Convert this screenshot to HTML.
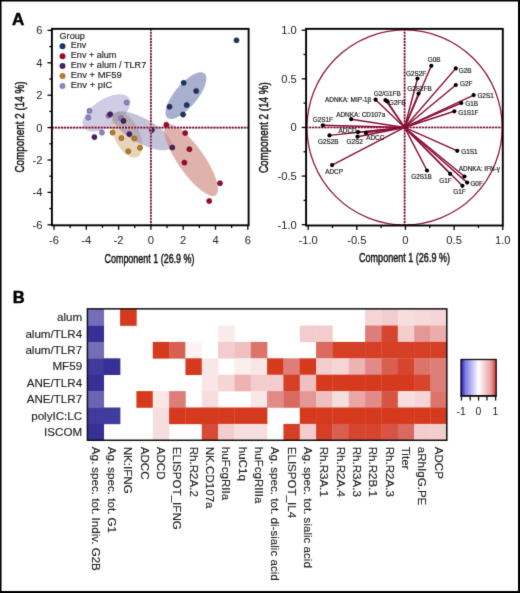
<!DOCTYPE html>
<html><head><meta charset="utf-8"><style>
html,body{margin:0;padding:0;background:#fff;}
#w{width:520px;height:593px;will-change:transform;}
svg{display:block;font-family:"Liberation Sans", sans-serif;}
</style></head><body><div id="w">
<svg width="520" height="593" viewBox="0 0 520 593">
<defs><filter id="soft" x="0" y="0" width="520" height="593" filterUnits="userSpaceOnUse" color-interpolation-filters="sRGB"><feConvolveMatrix order="3" kernelMatrix="0.0114 0.0841 0.0114 0.0841 0.6180 0.0841 0.0114 0.0841 0.0114" edgeMode="duplicate" preserveAlpha="true"/></filter></defs>
<g filter="url(#soft)">
<rect width="520" height="593" fill="#fff"/>
<path d="M0.75 0V593M0 0.75H520" stroke="#000" stroke-width="1.5"/>
<path d="M519 0V593M0 592H520" stroke="#000" stroke-width="2"/>
<text x="11.90" y="25.00" font-size="17" text-anchor="start" fill="#000" font-weight="bold" stroke="#000" stroke-width="0.5">A</text>
<text x="12.70" y="303.00" font-size="16.5" text-anchor="start" fill="#000" font-weight="bold" stroke="#000" stroke-width="0.5">B</text>
<ellipse cx="106.4" cy="113.0" rx="27.0" ry="13.8" transform="rotate(-33 106.4 113.0)" fill="#9f99c9" fill-opacity="0.5"/>
<ellipse cx="126.8" cy="134.8" rx="24.5" ry="12.6" transform="rotate(65 126.8 134.8)" fill="#d9b78c" fill-opacity="0.6"/>
<ellipse cx="142.0" cy="130.8" rx="33.5" ry="12.3" transform="rotate(29 142.0 130.8)" fill="#8480ac" fill-opacity="0.48"/>
<ellipse cx="185.9" cy="95.6" rx="29.0" ry="11.3" transform="rotate(-50 185.9 95.6)" fill="#7784b1" fill-opacity="0.64"/>
<ellipse cx="191.2" cy="160.1" rx="43.0" ry="13.2" transform="rotate(55 191.2 160.1)" fill="#cf8980" fill-opacity="0.65"/>
<line x1="51.9" y1="127.6" x2="248.6" y2="127.6" stroke="#eeb4c4" stroke-width="1.8"/>
<line x1="51.9" y1="127.6" x2="248.6" y2="127.6" stroke="#5e0a28" stroke-width="1.6" stroke-dasharray="1.9 1.15"/>
<circle cx="89.5" cy="110.8" r="2.55" fill="#8a86c0" stroke="#605d86" stroke-width="0.6"/>
<circle cx="88.3" cy="117.6" r="2.55" fill="#8a86c0" stroke="#605d86" stroke-width="0.6"/>
<circle cx="126.7" cy="102.6" r="2.55" fill="#8a86c0" stroke="#605d86" stroke-width="0.6"/>
<circle cx="101.9" cy="132.6" r="2.55" fill="#8a86c0" stroke="#605d86" stroke-width="0.6"/>
<circle cx="108.6" cy="115.7" r="2.55" fill="#8a86c0" stroke="#605d86" stroke-width="0.6"/>
<circle cx="121.0" cy="118.2" r="2.55" fill="#8a86c0" stroke="#605d86" stroke-width="0.6"/>
<circle cx="112.6" cy="132.6" r="2.55" fill="#b9792b" stroke="#81541e" stroke-width="0.6"/>
<circle cx="121.4" cy="138.0" r="2.55" fill="#b9792b" stroke="#81541e" stroke-width="0.6"/>
<circle cx="134.3" cy="138.6" r="2.55" fill="#b9792b" stroke="#81541e" stroke-width="0.6"/>
<circle cx="140.0" cy="147.8" r="2.55" fill="#b9792b" stroke="#81541e" stroke-width="0.6"/>
<circle cx="128.3" cy="151.3" r="2.55" fill="#b9792b" stroke="#81541e" stroke-width="0.6"/>
<circle cx="110.2" cy="114.2" r="2.55" fill="#47215e" stroke="#311741" stroke-width="0.6"/>
<circle cx="123.5" cy="120.9" r="2.55" fill="#47215e" stroke="#311741" stroke-width="0.6"/>
<circle cx="94.4" cy="137.1" r="2.55" fill="#47215e" stroke="#311741" stroke-width="0.6"/>
<circle cx="129.3" cy="134.1" r="2.55" fill="#47215e" stroke="#311741" stroke-width="0.6"/>
<circle cx="151.8" cy="130.0" r="2.55" fill="#47215e" stroke="#311741" stroke-width="0.6"/>
<circle cx="172.3" cy="147.5" r="2.55" fill="#47215e" stroke="#311741" stroke-width="0.6"/>
<circle cx="236.5" cy="40.3" r="2.55" fill="#1f3466" stroke="#152447" stroke-width="0.6"/>
<circle cx="183.6" cy="82.8" r="2.55" fill="#1f3466" stroke="#152447" stroke-width="0.6"/>
<circle cx="196.2" cy="91.0" r="2.55" fill="#1f3466" stroke="#152447" stroke-width="0.6"/>
<circle cx="169.5" cy="106.7" r="2.55" fill="#1f3466" stroke="#152447" stroke-width="0.6"/>
<circle cx="186.7" cy="105.0" r="2.55" fill="#1f3466" stroke="#152447" stroke-width="0.6"/>
<circle cx="183.1" cy="114.6" r="2.55" fill="#1f3466" stroke="#152447" stroke-width="0.6"/>
<circle cx="166.3" cy="124.7" r="2.55" fill="#9a0c2c" stroke="#6b081e" stroke-width="0.6"/>
<circle cx="185.2" cy="133.0" r="2.55" fill="#9a0c2c" stroke="#6b081e" stroke-width="0.6"/>
<circle cx="189.4" cy="149.2" r="2.55" fill="#9a0c2c" stroke="#6b081e" stroke-width="0.6"/>
<circle cx="184.4" cy="162.6" r="2.55" fill="#9a0c2c" stroke="#6b081e" stroke-width="0.6"/>
<circle cx="220.0" cy="183.2" r="2.55" fill="#9a0c2c" stroke="#6b081e" stroke-width="0.6"/>
<circle cx="209.2" cy="201.0" r="2.55" fill="#9a0c2c" stroke="#6b081e" stroke-width="0.6"/>
<line x1="150.9" y1="28.85" x2="150.9" y2="225.3" stroke="#eeb4c4" stroke-width="1.8"/>
<line x1="150.9" y1="28.85" x2="150.9" y2="225.3" stroke="#5e0a28" stroke-width="1.6" stroke-dasharray="1.9 1.15"/>
<rect x="51.9" y="28.85" width="196.7" height="196.45000000000002" fill="none" stroke="#000" stroke-width="1.9"/>
<line x1="54.00" y1="225.3" x2="54.00" y2="229.70000000000002" stroke="#000" stroke-width="1.3"/>
<line x1="51.9" y1="224.80" x2="47.5" y2="224.80" stroke="#000" stroke-width="1.3"/>
<line x1="70.15" y1="225.3" x2="70.15" y2="227.9" stroke="#000" stroke-width="1.3"/>
<line x1="51.9" y1="208.60" x2="49.3" y2="208.60" stroke="#000" stroke-width="1.3"/>
<line x1="86.30" y1="225.3" x2="86.30" y2="229.70000000000002" stroke="#000" stroke-width="1.3"/>
<line x1="51.9" y1="192.40" x2="47.5" y2="192.40" stroke="#000" stroke-width="1.3"/>
<line x1="102.45" y1="225.3" x2="102.45" y2="227.9" stroke="#000" stroke-width="1.3"/>
<line x1="51.9" y1="176.20" x2="49.3" y2="176.20" stroke="#000" stroke-width="1.3"/>
<line x1="118.60" y1="225.3" x2="118.60" y2="229.70000000000002" stroke="#000" stroke-width="1.3"/>
<line x1="51.9" y1="160.00" x2="47.5" y2="160.00" stroke="#000" stroke-width="1.3"/>
<line x1="134.75" y1="225.3" x2="134.75" y2="227.9" stroke="#000" stroke-width="1.3"/>
<line x1="51.9" y1="143.80" x2="49.3" y2="143.80" stroke="#000" stroke-width="1.3"/>
<line x1="150.90" y1="225.3" x2="150.90" y2="229.70000000000002" stroke="#000" stroke-width="1.3"/>
<line x1="51.9" y1="127.60" x2="47.5" y2="127.60" stroke="#000" stroke-width="1.3"/>
<line x1="167.05" y1="225.3" x2="167.05" y2="227.9" stroke="#000" stroke-width="1.3"/>
<line x1="51.9" y1="111.40" x2="49.3" y2="111.40" stroke="#000" stroke-width="1.3"/>
<line x1="183.20" y1="225.3" x2="183.20" y2="229.70000000000002" stroke="#000" stroke-width="1.3"/>
<line x1="51.9" y1="95.20" x2="47.5" y2="95.20" stroke="#000" stroke-width="1.3"/>
<line x1="199.35" y1="225.3" x2="199.35" y2="227.9" stroke="#000" stroke-width="1.3"/>
<line x1="51.9" y1="79.00" x2="49.3" y2="79.00" stroke="#000" stroke-width="1.3"/>
<line x1="215.50" y1="225.3" x2="215.50" y2="229.70000000000002" stroke="#000" stroke-width="1.3"/>
<line x1="51.9" y1="62.80" x2="47.5" y2="62.80" stroke="#000" stroke-width="1.3"/>
<line x1="231.65" y1="225.3" x2="231.65" y2="227.9" stroke="#000" stroke-width="1.3"/>
<line x1="51.9" y1="46.60" x2="49.3" y2="46.60" stroke="#000" stroke-width="1.3"/>
<line x1="247.80" y1="225.3" x2="247.80" y2="229.70000000000002" stroke="#000" stroke-width="1.3"/>
<line x1="51.9" y1="30.40" x2="47.5" y2="30.40" stroke="#000" stroke-width="1.3"/>
<text x="54.00" y="243.50" font-size="11.2" text-anchor="middle" fill="#222" font-weight="normal" >-6</text>
<text x="42.40" y="228.70" font-size="11.2" text-anchor="end" fill="#222" font-weight="normal" >-6</text>
<text x="86.30" y="243.50" font-size="11.2" text-anchor="middle" fill="#222" font-weight="normal" >-4</text>
<text x="42.40" y="196.30" font-size="11.2" text-anchor="end" fill="#222" font-weight="normal" >-4</text>
<text x="118.60" y="243.50" font-size="11.2" text-anchor="middle" fill="#222" font-weight="normal" >-2</text>
<text x="42.40" y="163.90" font-size="11.2" text-anchor="end" fill="#222" font-weight="normal" >-2</text>
<text x="150.90" y="243.50" font-size="11.2" text-anchor="middle" fill="#222" font-weight="normal" >0</text>
<text x="42.40" y="131.50" font-size="11.2" text-anchor="end" fill="#222" font-weight="normal" >0</text>
<text x="183.20" y="243.50" font-size="11.2" text-anchor="middle" fill="#222" font-weight="normal" >2</text>
<text x="42.40" y="99.10" font-size="11.2" text-anchor="end" fill="#222" font-weight="normal" >2</text>
<text x="215.50" y="243.50" font-size="11.2" text-anchor="middle" fill="#222" font-weight="normal" >4</text>
<text x="42.40" y="66.70" font-size="11.2" text-anchor="end" fill="#222" font-weight="normal" >4</text>
<text x="247.80" y="243.50" font-size="11.2" text-anchor="middle" fill="#222" font-weight="normal" >6</text>
<text x="42.40" y="34.30" font-size="11.2" text-anchor="end" fill="#222" font-weight="normal" >6</text>
<text x="149.50" y="262.50" font-size="12.2" text-anchor="middle" fill="#111" font-weight="normal" textLength="90" lengthAdjust="spacingAndGlyphs" stroke="#111" stroke-width="0.45">Component 1 (26.9 %)</text>
<text transform="translate(23.8 127) rotate(-90)" x="0" y="0" font-size="12.2" text-anchor="middle" fill="#111" stroke="#111" stroke-width="0.45" textLength="91" lengthAdjust="spacingAndGlyphs">Component 2 (14 %)</text>
<text x="59.50" y="39.40" font-size="9.1" text-anchor="start" fill="#1a1a1a" font-weight="normal" textLength="25.4" lengthAdjust="spacingAndGlyphs" stroke="#1a1a1a" stroke-width="0.15">Group</text>
<circle cx="62.5" cy="46.20" r="3.0" fill="#1f3466"/>
<text x="70.80" y="48.10" font-size="9.0" text-anchor="start" fill="#1a1a1a" font-weight="normal" stroke="#1a1a1a" stroke-width="0.15">Env</text>
<circle cx="62.5" cy="56.13" r="3.0" fill="#9a0c2c"/>
<text x="70.80" y="58.03" font-size="9.0" text-anchor="start" fill="#1a1a1a" font-weight="normal" textLength="45.6" lengthAdjust="spacingAndGlyphs" stroke="#1a1a1a" stroke-width="0.15">Env + alum</text>
<circle cx="62.5" cy="66.06" r="3.0" fill="#47215e"/>
<text x="70.80" y="67.96" font-size="9.0" text-anchor="start" fill="#1a1a1a" font-weight="normal" textLength="75.4" lengthAdjust="spacingAndGlyphs" stroke="#1a1a1a" stroke-width="0.15">Env + alum / TLR7</text>
<circle cx="62.5" cy="75.99" r="3.0" fill="#b9792b"/>
<text x="70.80" y="77.89" font-size="9.0" text-anchor="start" fill="#1a1a1a" font-weight="normal" textLength="51.0" lengthAdjust="spacingAndGlyphs" stroke="#1a1a1a" stroke-width="0.15">Env + MF59</text>
<circle cx="62.5" cy="85.92" r="3.0" fill="#8a86c0"/>
<text x="70.80" y="87.82" font-size="9.0" text-anchor="start" fill="#1a1a1a" font-weight="normal" textLength="41.6" lengthAdjust="spacingAndGlyphs" stroke="#1a1a1a" stroke-width="0.15">Env + pIC</text>
<ellipse cx="404.6" cy="127.45" rx="97.6" ry="97.5" fill="none" stroke="#8f1a3c" stroke-width="1.3"/>
<line x1="404.6" y1="28.85" x2="404.6" y2="225.5" stroke="#eeb4c4" stroke-width="1.8"/>
<line x1="404.6" y1="28.85" x2="404.6" y2="225.5" stroke="#5e0a28" stroke-width="1.6" stroke-dasharray="1.9 1.15"/>
<line x1="306.1" y1="127.45" x2="502.8" y2="127.45" stroke="#eeb4c4" stroke-width="1.8"/>
<line x1="306.1" y1="127.45" x2="502.8" y2="127.45" stroke="#5e0a28" stroke-width="1.6" stroke-dasharray="1.9 1.15"/>
<line x1="404.6" y1="127.45" x2="431.3" y2="65.8" stroke="#8a0f34" stroke-width="1.45"/>
<line x1="404.6" y1="127.45" x2="455.8" y2="68.4" stroke="#8a0f34" stroke-width="1.45"/>
<line x1="404.6" y1="127.45" x2="417.5" y2="78.5" stroke="#8a0f34" stroke-width="1.45"/>
<line x1="404.6" y1="127.45" x2="455.8" y2="85.0" stroke="#8a0f34" stroke-width="1.45"/>
<line x1="404.6" y1="127.45" x2="418.5" y2="93.6" stroke="#8a0f34" stroke-width="1.45"/>
<line x1="404.6" y1="127.45" x2="473.7" y2="95.1" stroke="#8a0f34" stroke-width="1.45"/>
<line x1="404.6" y1="127.45" x2="461.3" y2="103.0" stroke="#8a0f34" stroke-width="1.45"/>
<line x1="404.6" y1="127.45" x2="454.3" y2="111.3" stroke="#8a0f34" stroke-width="1.45"/>
<line x1="404.6" y1="127.45" x2="375.6" y2="99.7" stroke="#8a0f34" stroke-width="1.45"/>
<line x1="404.6" y1="127.45" x2="385.5" y2="100.2" stroke="#8a0f34" stroke-width="1.45"/>
<line x1="404.6" y1="127.45" x2="387.2" y2="101.4" stroke="#8a0f34" stroke-width="1.45"/>
<line x1="404.6" y1="127.45" x2="351.2" y2="119.2" stroke="#8a0f34" stroke-width="1.45"/>
<line x1="404.6" y1="127.45" x2="322.9" y2="125.3" stroke="#8a0f34" stroke-width="1.45"/>
<line x1="404.6" y1="127.45" x2="358.1" y2="132.1" stroke="#8a0f34" stroke-width="1.45"/>
<line x1="404.6" y1="127.45" x2="329.5" y2="135.4" stroke="#8a0f34" stroke-width="1.45"/>
<line x1="404.6" y1="127.45" x2="357.5" y2="136.7" stroke="#8a0f34" stroke-width="1.45"/>
<line x1="404.6" y1="127.45" x2="365.9" y2="132.9" stroke="#8a0f34" stroke-width="1.45"/>
<line x1="404.6" y1="127.45" x2="332.1" y2="165.1" stroke="#8a0f34" stroke-width="1.45"/>
<line x1="404.6" y1="127.45" x2="457.3" y2="150.8" stroke="#8a0f34" stroke-width="1.45"/>
<line x1="404.6" y1="127.45" x2="427.0" y2="170.5" stroke="#8a0f34" stroke-width="1.45"/>
<line x1="404.6" y1="127.45" x2="450.1" y2="173.8" stroke="#8a0f34" stroke-width="1.45"/>
<line x1="404.6" y1="127.45" x2="464.5" y2="176.5" stroke="#8a0f34" stroke-width="1.45"/>
<line x1="404.6" y1="127.45" x2="467.2" y2="182.6" stroke="#8a0f34" stroke-width="1.45"/>
<line x1="404.6" y1="127.45" x2="462.4" y2="185.8" stroke="#8a0f34" stroke-width="1.45"/>
<circle cx="431.3" cy="65.8" r="2.1" fill="#000"/>
<circle cx="455.8" cy="68.4" r="2.1" fill="#000"/>
<circle cx="417.5" cy="78.5" r="2.1" fill="#000"/>
<circle cx="455.8" cy="85.0" r="2.1" fill="#000"/>
<circle cx="418.5" cy="93.6" r="2.1" fill="#000"/>
<circle cx="473.7" cy="95.1" r="2.1" fill="#000"/>
<circle cx="461.3" cy="103.0" r="2.1" fill="#000"/>
<circle cx="454.3" cy="111.3" r="2.1" fill="#000"/>
<circle cx="375.6" cy="99.7" r="2.1" fill="#000"/>
<circle cx="385.5" cy="100.2" r="2.1" fill="#000"/>
<circle cx="387.2" cy="101.4" r="2.1" fill="#000"/>
<circle cx="351.2" cy="119.2" r="2.1" fill="#000"/>
<circle cx="322.9" cy="125.3" r="2.1" fill="#000"/>
<circle cx="358.1" cy="132.1" r="2.1" fill="#000"/>
<circle cx="329.5" cy="135.4" r="2.1" fill="#000"/>
<circle cx="357.5" cy="136.7" r="2.1" fill="#000"/>
<circle cx="365.9" cy="132.9" r="2.1" fill="#000"/>
<circle cx="332.1" cy="165.1" r="2.1" fill="#000"/>
<circle cx="457.3" cy="150.8" r="2.1" fill="#000"/>
<circle cx="427.0" cy="170.5" r="2.1" fill="#000"/>
<circle cx="450.1" cy="173.8" r="2.1" fill="#000"/>
<circle cx="464.5" cy="176.5" r="2.1" fill="#000"/>
<circle cx="467.2" cy="182.6" r="2.1" fill="#000"/>
<circle cx="462.4" cy="185.8" r="2.1" fill="#000"/>
<text x="427.80" y="62.10" font-size="6.4" text-anchor="start" fill="#1a1a1a" font-weight="normal" stroke="#1a1a1a" stroke-width="0.18">G0B</text>
<text x="458.80" y="72.70" font-size="6.4" text-anchor="start" fill="#1a1a1a" font-weight="normal" stroke="#1a1a1a" stroke-width="0.18">G2B</text>
<text x="406.00" y="76.10" font-size="6.4" text-anchor="start" fill="#1a1a1a" font-weight="normal" stroke="#1a1a1a" stroke-width="0.18">G2S2F</text>
<text x="460.00" y="86.10" font-size="6.4" text-anchor="start" fill="#1a1a1a" font-weight="normal" stroke="#1a1a1a" stroke-width="0.18">G2F</text>
<text x="407.30" y="91.10" font-size="6.4" text-anchor="start" fill="#1a1a1a" font-weight="normal" stroke="#1a1a1a" stroke-width="0.18">G2S2FB</text>
<text x="477.40" y="97.50" font-size="6.4" text-anchor="start" fill="#1a1a1a" font-weight="normal" stroke="#1a1a1a" stroke-width="0.18">G2S1</text>
<text x="465.30" y="106.20" font-size="6.4" text-anchor="start" fill="#1a1a1a" font-weight="normal" stroke="#1a1a1a" stroke-width="0.18">G1B</text>
<text x="458.20" y="115.10" font-size="6.4" text-anchor="start" fill="#1a1a1a" font-weight="normal" stroke="#1a1a1a" stroke-width="0.18">G1S1F</text>
<text x="371.30" y="102.10" font-size="6.4" text-anchor="end" fill="#1a1a1a" font-weight="normal" stroke="#1a1a1a" stroke-width="0.18">ADNKA: MIP-1β</text>
<text x="373.70" y="96.40" font-size="6.4" text-anchor="start" fill="#1a1a1a" font-weight="normal" stroke="#1a1a1a" stroke-width="0.18">G2/G1FB</text>
<text x="388.80" y="105.20" font-size="6.4" text-anchor="start" fill="#1a1a1a" font-weight="normal" stroke="#1a1a1a" stroke-width="0.18">G2FB</text>
<text x="336.20" y="117.10" font-size="6.4" text-anchor="start" fill="#1a1a1a" font-weight="normal" stroke="#1a1a1a" stroke-width="0.18">ADNKA: CD107a</text>
<text x="312.70" y="121.90" font-size="6.4" text-anchor="start" fill="#1a1a1a" font-weight="normal" stroke="#1a1a1a" stroke-width="0.18">G2S1F</text>
<text x="338.50" y="132.50" font-size="6.4" text-anchor="start" fill="#1a1a1a" font-weight="normal" stroke="#1a1a1a" stroke-width="0.18">ADCD</text>
<text x="318.00" y="144.00" font-size="6.4" text-anchor="start" fill="#1a1a1a" font-weight="normal" stroke="#1a1a1a" stroke-width="0.18">G2S2B</text>
<text x="346.50" y="144.30" font-size="6.4" text-anchor="start" fill="#1a1a1a" font-weight="normal" stroke="#1a1a1a" stroke-width="0.18">G2S2</text>
<text x="366.20" y="139.60" font-size="6.4" text-anchor="start" fill="#1a1a1a" font-weight="normal" stroke="#1a1a1a" stroke-width="0.18">ADCC</text>
<text x="325.20" y="173.70" font-size="6.4" text-anchor="start" fill="#1a1a1a" font-weight="normal" stroke="#1a1a1a" stroke-width="0.18">ADCP</text>
<text x="461.20" y="154.10" font-size="6.4" text-anchor="start" fill="#1a1a1a" font-weight="normal" stroke="#1a1a1a" stroke-width="0.18">G1S1</text>
<text x="411.20" y="178.50" font-size="6.4" text-anchor="start" fill="#1a1a1a" font-weight="normal" stroke="#1a1a1a" stroke-width="0.18">G2S1B</text>
<text x="439.20" y="182.80" font-size="6.4" text-anchor="start" fill="#1a1a1a" font-weight="normal" stroke="#1a1a1a" stroke-width="0.18">G1F</text>
<text x="458.80" y="170.80" font-size="6.4" text-anchor="start" fill="#1a1a1a" font-weight="normal" stroke="#1a1a1a" stroke-width="0.18">ADNKA: IFN-γ</text>
<text x="470.40" y="186.00" font-size="6.4" text-anchor="start" fill="#1a1a1a" font-weight="normal" stroke="#1a1a1a" stroke-width="0.18">G0F</text>
<text x="453.30" y="194.10" font-size="6.4" text-anchor="start" fill="#1a1a1a" font-weight="normal" stroke="#1a1a1a" stroke-width="0.18">G1F</text>
<rect x="306.1" y="28.85" width="196.7" height="196.65" fill="none" stroke="#000" stroke-width="1.9"/>
<line x1="308.15" y1="225.5" x2="308.15" y2="229.9" stroke="#000" stroke-width="1.3"/>
<line x1="306.1" y1="224.70" x2="301.70000000000005" y2="224.70" stroke="#000" stroke-width="1.3"/>
<line x1="332.48" y1="225.5" x2="332.48" y2="228.1" stroke="#000" stroke-width="1.3"/>
<line x1="306.1" y1="200.39" x2="303.5" y2="200.39" stroke="#000" stroke-width="1.3"/>
<line x1="356.80" y1="225.5" x2="356.80" y2="229.9" stroke="#000" stroke-width="1.3"/>
<line x1="306.1" y1="176.07" x2="301.70000000000005" y2="176.07" stroke="#000" stroke-width="1.3"/>
<line x1="381.12" y1="225.5" x2="381.12" y2="228.1" stroke="#000" stroke-width="1.3"/>
<line x1="306.1" y1="151.76" x2="303.5" y2="151.76" stroke="#000" stroke-width="1.3"/>
<line x1="405.45" y1="225.5" x2="405.45" y2="229.9" stroke="#000" stroke-width="1.3"/>
<line x1="306.1" y1="127.45" x2="301.70000000000005" y2="127.45" stroke="#000" stroke-width="1.3"/>
<line x1="429.77" y1="225.5" x2="429.77" y2="228.1" stroke="#000" stroke-width="1.3"/>
<line x1="306.1" y1="103.14" x2="303.5" y2="103.14" stroke="#000" stroke-width="1.3"/>
<line x1="454.10" y1="225.5" x2="454.10" y2="229.9" stroke="#000" stroke-width="1.3"/>
<line x1="306.1" y1="78.83" x2="301.70000000000005" y2="78.83" stroke="#000" stroke-width="1.3"/>
<line x1="478.42" y1="225.5" x2="478.42" y2="228.1" stroke="#000" stroke-width="1.3"/>
<line x1="306.1" y1="54.51" x2="303.5" y2="54.51" stroke="#000" stroke-width="1.3"/>
<line x1="502.75" y1="225.5" x2="502.75" y2="229.9" stroke="#000" stroke-width="1.3"/>
<line x1="306.1" y1="30.20" x2="301.70000000000005" y2="30.20" stroke="#000" stroke-width="1.3"/>
<text x="308.15" y="243.50" font-size="11.2" text-anchor="middle" fill="#222" font-weight="normal" >-1.0</text>
<text x="296.80" y="228.60" font-size="11.2" text-anchor="end" fill="#222" font-weight="normal" >-1.0</text>
<text x="356.80" y="243.50" font-size="11.2" text-anchor="middle" fill="#222" font-weight="normal" >-0.5</text>
<text x="296.80" y="179.97" font-size="11.2" text-anchor="end" fill="#222" font-weight="normal" >-0.5</text>
<text x="405.45" y="243.50" font-size="11.2" text-anchor="middle" fill="#222" font-weight="normal" >0</text>
<text x="296.80" y="131.35" font-size="11.2" text-anchor="end" fill="#222" font-weight="normal" >0</text>
<text x="454.10" y="243.50" font-size="11.2" text-anchor="middle" fill="#222" font-weight="normal" >0.5</text>
<text x="296.80" y="82.73" font-size="11.2" text-anchor="end" fill="#222" font-weight="normal" >0.5</text>
<text x="502.75" y="243.50" font-size="11.2" text-anchor="middle" fill="#222" font-weight="normal" >1.0</text>
<text x="296.80" y="34.10" font-size="11.2" text-anchor="end" fill="#222" font-weight="normal" >1.0</text>
<text x="404.50" y="262.00" font-size="12.2" text-anchor="middle" fill="#111" font-weight="normal" textLength="91" lengthAdjust="spacingAndGlyphs" stroke="#111" stroke-width="0.45">Component 1 (26.9 %)</text>
<text transform="translate(267.5 127.6) rotate(-90)" x="0" y="0" font-size="12.2" text-anchor="middle" fill="#111" stroke="#111" stroke-width="0.45" textLength="91" lengthAdjust="spacingAndGlyphs">Component 2 (14 %)</text>
<rect x="87.40" y="309.15" width="16.64" height="16.69" fill="#746eb8"/>
<rect x="120.07" y="309.15" width="16.64" height="16.69" fill="#d53a1e"/>
<rect x="365.11" y="309.15" width="16.64" height="16.69" fill="#f5d5d5"/>
<rect x="381.45" y="309.15" width="16.64" height="16.69" fill="#f3cdcd"/>
<rect x="397.78" y="309.15" width="16.64" height="16.69" fill="#f7dede"/>
<rect x="414.12" y="309.15" width="16.64" height="16.69" fill="#f6dada"/>
<rect x="430.46" y="309.15" width="16.64" height="16.69" fill="#f5d5d5"/>
<rect x="87.40" y="325.54" width="16.64" height="16.69" fill="#383096"/>
<rect x="218.09" y="325.54" width="16.64" height="16.69" fill="#faebeb"/>
<rect x="299.77" y="325.54" width="16.64" height="16.69" fill="#f3cdcd"/>
<rect x="316.10" y="325.54" width="16.64" height="16.69" fill="#f3cdcd"/>
<rect x="365.11" y="325.54" width="16.64" height="16.69" fill="#dd7e7a"/>
<rect x="381.45" y="325.54" width="16.64" height="16.69" fill="#d6452e"/>
<rect x="397.78" y="325.54" width="16.64" height="16.69" fill="#f3cdcd"/>
<rect x="414.12" y="325.54" width="16.64" height="16.69" fill="#e49896"/>
<rect x="430.46" y="325.54" width="16.64" height="16.69" fill="#eaadac"/>
<rect x="87.40" y="341.93" width="16.64" height="16.69" fill="#746eb8"/>
<rect x="152.74" y="341.93" width="16.64" height="16.69" fill="#d53a1e"/>
<rect x="169.08" y="341.93" width="16.64" height="16.69" fill="#d95f51"/>
<rect x="185.42" y="341.93" width="16.64" height="16.69" fill="#fcf2f2"/>
<rect x="218.09" y="341.93" width="16.64" height="16.69" fill="#f3cdcd"/>
<rect x="234.42" y="341.93" width="16.64" height="16.69" fill="#efc0bf"/>
<rect x="250.76" y="341.93" width="16.64" height="16.69" fill="#dc746c"/>
<rect x="316.10" y="341.93" width="16.64" height="16.69" fill="#da695f"/>
<rect x="332.44" y="341.93" width="16.64" height="16.69" fill="#d53f26"/>
<rect x="348.78" y="341.93" width="16.64" height="16.69" fill="#d53f26"/>
<rect x="365.11" y="341.93" width="16.64" height="16.69" fill="#d53f26"/>
<rect x="381.45" y="341.93" width="16.64" height="16.69" fill="#d53f26"/>
<rect x="397.78" y="341.93" width="16.64" height="16.69" fill="#d53f26"/>
<rect x="414.12" y="341.93" width="16.64" height="16.69" fill="#d53f26"/>
<rect x="430.46" y="341.93" width="16.64" height="16.69" fill="#d53f26"/>
<rect x="87.40" y="358.32" width="16.64" height="16.69" fill="#423a9c"/>
<rect x="103.74" y="358.32" width="16.64" height="16.69" fill="#383096"/>
<rect x="185.42" y="358.32" width="16.64" height="16.69" fill="#d53a1e"/>
<rect x="201.75" y="358.32" width="16.64" height="16.69" fill="#f9e6e6"/>
<rect x="234.42" y="358.32" width="16.64" height="16.69" fill="#fbeeee"/>
<rect x="250.76" y="358.32" width="16.64" height="16.69" fill="#f9e6e6"/>
<rect x="267.10" y="358.32" width="16.64" height="16.69" fill="#d53a1e"/>
<rect x="283.43" y="358.32" width="16.64" height="16.69" fill="#dd7e7a"/>
<rect x="299.77" y="358.32" width="16.64" height="16.69" fill="#d53a1e"/>
<rect x="316.10" y="358.32" width="16.64" height="16.69" fill="#f3cdcd"/>
<rect x="332.44" y="358.32" width="16.64" height="16.69" fill="#f5d5d5"/>
<rect x="348.78" y="358.32" width="16.64" height="16.69" fill="#ecb3b1"/>
<rect x="365.11" y="358.32" width="16.64" height="16.69" fill="#e18b88"/>
<rect x="381.45" y="358.32" width="16.64" height="16.69" fill="#d95f51"/>
<rect x="397.78" y="358.32" width="16.64" height="16.69" fill="#d6452e"/>
<rect x="414.12" y="358.32" width="16.64" height="16.69" fill="#dc746c"/>
<rect x="430.46" y="358.32" width="16.64" height="16.69" fill="#dd7e7a"/>
<rect x="87.40" y="374.71" width="16.64" height="16.69" fill="#383096"/>
<rect x="201.75" y="374.71" width="16.64" height="16.69" fill="#f9e6e6"/>
<rect x="218.09" y="374.71" width="16.64" height="16.69" fill="#f5d5d5"/>
<rect x="234.42" y="374.71" width="16.64" height="16.69" fill="#ecb3b1"/>
<rect x="250.76" y="374.71" width="16.64" height="16.69" fill="#f3cdcd"/>
<rect x="267.10" y="374.71" width="16.64" height="16.69" fill="#f3cdcd"/>
<rect x="283.43" y="374.71" width="16.64" height="16.69" fill="#d53f26"/>
<rect x="299.77" y="374.71" width="16.64" height="16.69" fill="#efc0bf"/>
<rect x="316.10" y="374.71" width="16.64" height="16.69" fill="#d53a1e"/>
<rect x="332.44" y="374.71" width="16.64" height="16.69" fill="#d53a1e"/>
<rect x="348.78" y="374.71" width="16.64" height="16.69" fill="#d53a1e"/>
<rect x="365.11" y="374.71" width="16.64" height="16.69" fill="#d53a1e"/>
<rect x="381.45" y="374.71" width="16.64" height="16.69" fill="#d53a1e"/>
<rect x="397.78" y="374.71" width="16.64" height="16.69" fill="#d53a1e"/>
<rect x="414.12" y="374.71" width="16.64" height="16.69" fill="#d6452e"/>
<rect x="430.46" y="374.71" width="16.64" height="16.69" fill="#dd7e7a"/>
<rect x="87.40" y="391.10" width="16.64" height="16.69" fill="#6a64b2"/>
<rect x="136.41" y="391.10" width="16.64" height="16.69" fill="#d53a1e"/>
<rect x="152.74" y="391.10" width="16.64" height="16.69" fill="#f9e6e6"/>
<rect x="169.08" y="391.10" width="16.64" height="16.69" fill="#dd7e7a"/>
<rect x="201.75" y="391.10" width="16.64" height="16.69" fill="#f7dede"/>
<rect x="250.76" y="391.10" width="16.64" height="16.69" fill="#f9e6e6"/>
<rect x="267.10" y="391.10" width="16.64" height="16.69" fill="#e18b88"/>
<rect x="283.43" y="391.10" width="16.64" height="16.69" fill="#da695f"/>
<rect x="299.77" y="391.10" width="16.64" height="16.69" fill="#e49896"/>
<rect x="316.10" y="391.10" width="16.64" height="16.69" fill="#efc0bf"/>
<rect x="332.44" y="391.10" width="16.64" height="16.69" fill="#f7dede"/>
<rect x="348.78" y="391.10" width="16.64" height="16.69" fill="#e8a6a4"/>
<rect x="365.11" y="391.10" width="16.64" height="16.69" fill="#e18b88"/>
<rect x="381.45" y="391.10" width="16.64" height="16.69" fill="#d75444"/>
<rect x="397.78" y="391.10" width="16.64" height="16.69" fill="#f7dede"/>
<rect x="414.12" y="391.10" width="16.64" height="16.69" fill="#f5d5d5"/>
<rect x="430.46" y="391.10" width="16.64" height="16.69" fill="#dc746c"/>
<rect x="87.40" y="407.49" width="16.64" height="16.69" fill="#423a9c"/>
<rect x="103.74" y="407.49" width="16.64" height="16.69" fill="#423a9c"/>
<rect x="152.74" y="407.49" width="16.64" height="16.69" fill="#f7dede"/>
<rect x="169.08" y="407.49" width="16.64" height="16.69" fill="#d53a1e"/>
<rect x="185.42" y="407.49" width="16.64" height="16.69" fill="#d53a1e"/>
<rect x="201.75" y="407.49" width="16.64" height="16.69" fill="#d53a1e"/>
<rect x="218.09" y="407.49" width="16.64" height="16.69" fill="#d53a1e"/>
<rect x="234.42" y="407.49" width="16.64" height="16.69" fill="#d53a1e"/>
<rect x="250.76" y="407.49" width="16.64" height="16.69" fill="#d53a1e"/>
<rect x="299.77" y="407.49" width="16.64" height="16.69" fill="#d53a1e"/>
<rect x="316.10" y="407.49" width="16.64" height="16.69" fill="#d53a1e"/>
<rect x="332.44" y="407.49" width="16.64" height="16.69" fill="#d53a1e"/>
<rect x="348.78" y="407.49" width="16.64" height="16.69" fill="#d53a1e"/>
<rect x="365.11" y="407.49" width="16.64" height="16.69" fill="#d53a1e"/>
<rect x="381.45" y="407.49" width="16.64" height="16.69" fill="#d53a1e"/>
<rect x="397.78" y="407.49" width="16.64" height="16.69" fill="#d53a1e"/>
<rect x="414.12" y="407.49" width="16.64" height="16.69" fill="#d53a1e"/>
<rect x="430.46" y="407.49" width="16.64" height="16.69" fill="#d53a1e"/>
<rect x="87.40" y="423.88" width="16.64" height="16.69" fill="#383096"/>
<rect x="152.74" y="423.88" width="16.64" height="16.69" fill="#f7dede"/>
<rect x="201.75" y="423.88" width="16.64" height="16.69" fill="#d64a36"/>
<rect x="218.09" y="423.88" width="16.64" height="16.69" fill="#f3cdcd"/>
<rect x="234.42" y="423.88" width="16.64" height="16.69" fill="#f7dede"/>
<rect x="250.76" y="423.88" width="16.64" height="16.69" fill="#f7dede"/>
<rect x="283.43" y="423.88" width="16.64" height="16.69" fill="#d53f26"/>
<rect x="299.77" y="423.88" width="16.64" height="16.69" fill="#f3cdcd"/>
<rect x="316.10" y="423.88" width="16.64" height="16.69" fill="#d53f26"/>
<rect x="332.44" y="423.88" width="16.64" height="16.69" fill="#d95f51"/>
<rect x="348.78" y="423.88" width="16.64" height="16.69" fill="#d6452e"/>
<rect x="365.11" y="423.88" width="16.64" height="16.69" fill="#d6452e"/>
<rect x="381.45" y="423.88" width="16.64" height="16.69" fill="#d75444"/>
<rect x="397.78" y="423.88" width="16.64" height="16.69" fill="#da695f"/>
<rect x="414.12" y="423.88" width="16.64" height="16.69" fill="#f3cdcd"/>
<rect x="430.46" y="423.88" width="16.64" height="16.69" fill="#f3cdcd"/>
<rect x="87.40" y="308.85" width="359.39" height="131.42" fill="none" stroke="#111" stroke-width="1.5"/>
<text x="82.10" y="321.24" font-size="11.6" text-anchor="end" fill="#222" font-weight="normal" stroke="#222" stroke-width="0.15">alum</text>
<text x="82.10" y="337.63" font-size="11.6" text-anchor="end" fill="#222" font-weight="normal" stroke="#222" stroke-width="0.15">alum/TLR4</text>
<text x="82.10" y="354.02" font-size="11.6" text-anchor="end" fill="#222" font-weight="normal" stroke="#222" stroke-width="0.15">alum/TLR7</text>
<text x="82.10" y="370.41" font-size="11.6" text-anchor="end" fill="#222" font-weight="normal" stroke="#222" stroke-width="0.15">MF59</text>
<text x="82.10" y="386.80" font-size="11.6" text-anchor="end" fill="#222" font-weight="normal" stroke="#222" stroke-width="0.15">ANE/TLR4</text>
<text x="82.10" y="403.19" font-size="11.6" text-anchor="end" fill="#222" font-weight="normal" stroke="#222" stroke-width="0.15">ANE/TLR7</text>
<text x="82.10" y="419.58" font-size="11.6" text-anchor="end" fill="#222" font-weight="normal" stroke="#222" stroke-width="0.15">polyIC:LC</text>
<text x="82.10" y="435.97" font-size="11.6" text-anchor="end" fill="#222" font-weight="normal" stroke="#222" stroke-width="0.15">ISCOM</text>
<text transform="translate(91.77 446.7) rotate(90)" x="0" y="0" font-size="11.6" fill="#222" stroke="#222" stroke-width="0.15">Ag. spec. tot. Indiv. G2B</text>
<text transform="translate(108.10 446.7) rotate(90)" x="0" y="0" font-size="11.6" fill="#222" stroke="#222" stroke-width="0.15">Ag. spec. tot. G1</text>
<text transform="translate(124.44 446.7) rotate(90)" x="0" y="0" font-size="11.6" fill="#222" stroke="#222" stroke-width="0.15">NK:IFNG</text>
<text transform="translate(140.78 446.7) rotate(90)" x="0" y="0" font-size="11.6" fill="#222" stroke="#222" stroke-width="0.15">ADCC</text>
<text transform="translate(157.11 446.7) rotate(90)" x="0" y="0" font-size="11.6" fill="#222" stroke="#222" stroke-width="0.15">ADCD</text>
<text transform="translate(173.45 446.7) rotate(90)" x="0" y="0" font-size="11.6" fill="#222" stroke="#222" stroke-width="0.15">ELISPOT_IFNG</text>
<text transform="translate(189.78 446.7) rotate(90)" x="0" y="0" font-size="11.6" fill="#222" stroke="#222" stroke-width="0.15">Rh.R2A.2</text>
<text transform="translate(206.12 446.7) rotate(90)" x="0" y="0" font-size="11.6" fill="#222" stroke="#222" stroke-width="0.15">NK.CD107a</text>
<text transform="translate(222.46 446.7) rotate(90)" x="0" y="0" font-size="11.6" fill="#222" stroke="#222" stroke-width="0.15">huFcgRIIa</text>
<text transform="translate(238.79 446.7) rotate(90)" x="0" y="0" font-size="11.6" fill="#222" stroke="#222" stroke-width="0.15">huC1q</text>
<text transform="translate(255.13 446.7) rotate(90)" x="0" y="0" font-size="11.6" fill="#222" stroke="#222" stroke-width="0.15">huFcgRIIIa</text>
<text transform="translate(271.46 446.7) rotate(90)" x="0" y="0" font-size="11.6" fill="#222" stroke="#222" stroke-width="0.15">Ag. spec. tot. di-sialic acid</text>
<text transform="translate(287.80 446.7) rotate(90)" x="0" y="0" font-size="11.6" fill="#222" stroke="#222" stroke-width="0.15">ELISPOT_IL4</text>
<text transform="translate(304.14 446.7) rotate(90)" x="0" y="0" font-size="11.6" fill="#222" stroke="#222" stroke-width="0.15">Ag. spec. tot. sialic acid</text>
<text transform="translate(320.47 446.7) rotate(90)" x="0" y="0" font-size="11.6" fill="#222" stroke="#222" stroke-width="0.15">Rh.R3A.1</text>
<text transform="translate(336.81 446.7) rotate(90)" x="0" y="0" font-size="11.6" fill="#222" stroke="#222" stroke-width="0.15">Rh.R2A.4</text>
<text transform="translate(353.14 446.7) rotate(90)" x="0" y="0" font-size="11.6" fill="#222" stroke="#222" stroke-width="0.15">Rh.R3A.3</text>
<text transform="translate(369.48 446.7) rotate(90)" x="0" y="0" font-size="11.6" fill="#222" stroke="#222" stroke-width="0.15">Rh.R2B.1</text>
<text transform="translate(385.82 446.7) rotate(90)" x="0" y="0" font-size="11.6" fill="#222" stroke="#222" stroke-width="0.15">Rh.R2A.3</text>
<text transform="translate(402.15 446.7) rotate(90)" x="0" y="0" font-size="11.6" fill="#222" stroke="#222" stroke-width="0.15">Titer</text>
<text transform="translate(418.49 446.7) rotate(90)" x="0" y="0" font-size="11.6" fill="#222" stroke="#222" stroke-width="0.15">aRhIgG.PE</text>
<text transform="translate(434.82 446.7) rotate(90)" x="0" y="0" font-size="11.6" fill="#222" stroke="#222" stroke-width="0.15">ADCP</text>
<defs><linearGradient id="cb" x1="0" x2="1" y1="0" y2="0"><stop offset="0" stop-color="#1a12b8"/><stop offset="0.12" stop-color="#7e78e8"/><stop offset="0.5" stop-color="#ffffff"/><stop offset="0.85" stop-color="#eaa0a0"/><stop offset="1" stop-color="#d03030"/></linearGradient></defs>
<rect x="461" y="359.5" width="35.2" height="36.2" fill="url(#cb)" stroke="#111" stroke-width="1.3"/>
<line x1="460.4" y1="395.9" x2="496.8" y2="395.9" stroke="#111" stroke-width="1.8"/>
<line x1="461.5" y1="395.6" x2="461.5" y2="400.6" stroke="#111" stroke-width="1.3"/>
<line x1="470.2" y1="395.6" x2="470.2" y2="400.6" stroke="#111" stroke-width="1.3"/>
<line x1="478.6" y1="395.6" x2="478.6" y2="400.6" stroke="#111" stroke-width="1.3"/>
<line x1="486.9" y1="395.6" x2="486.9" y2="400.6" stroke="#111" stroke-width="1.3"/>
<line x1="495.6" y1="395.6" x2="495.6" y2="400.6" stroke="#111" stroke-width="1.3"/>
<text x="461.20" y="414.60" font-size="10.4" text-anchor="middle" fill="#222" font-weight="normal" >-1</text>
<text x="478.40" y="414.60" font-size="10.4" text-anchor="middle" fill="#222" font-weight="normal" >0</text>
<text x="495.40" y="414.60" font-size="10.4" text-anchor="middle" fill="#222" font-weight="normal" >1</text>
</g>
</svg></div></body></html>
